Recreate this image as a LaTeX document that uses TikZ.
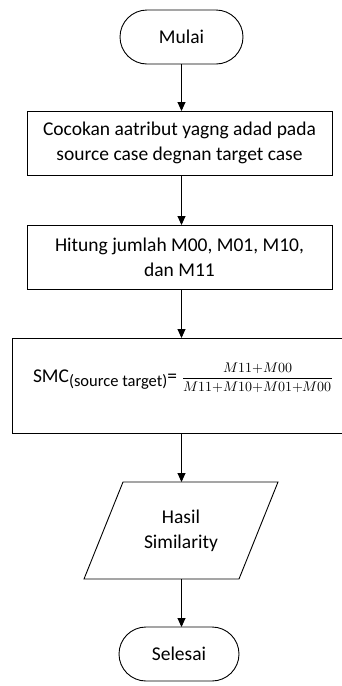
\documentclass[tikz,border=0pt]{standalone}
\usepackage{fontspec}
\usepackage{unicode-math}
\setmainfont{Carlito}
\setmathfont{Latin Modern Math}
\usetikzlibrary{arrows.meta}
\newcommand{\smcsub}[1]{\raisebox{-4.5pt}{\fontsize{16.5}{18}\selectfont #1}}
\newcommand{\smcfrac}[2]{{\fontsize{14}{16}\selectfont$\dfrac{#1}{#2}$}}
\begin{document}
\begin{tikzpicture}[x=1pt,y=-1pt,
  every node/.style={inner sep=0pt,outer sep=0pt},
  shape line/.style={draw=black,line width=0.9pt},
  terminal/.style={shape line,rectangle,rounded corners=27pt,minimum width=123pt,minimum height=54pt,
    font=\fontsize{19.5}{25}\selectfont},
  process/.style={shape line,rectangle,minimum height=64pt,align=center,
    font=\fontsize{19.5}{25}\selectfont},
  flow/.style={line width=0.9pt,-{Triangle[length=9pt,width=8pt]}}]
\useasboundingbox (0,0) rectangle (342,686);
\fill[white] (0,0) rectangle (342,686);

% start / end terminals
\node[terminal] (start) at (181.5,37) {Mulai};
\node[terminal,minimum width=120pt] (stop) at (179,654) {Selesai};

% process steps
\node[process,minimum width=305pt] (match) at (179.5,143)
  {Cocokan aatribut yagng adad pada\\source case degnan target case};
\node[process,minimum width=305pt] (count) at (179.5,257)
  {Hitung jumlah M00, M01, M10,\\dan M11};
\node[process,minimum width=340pt,minimum height=95pt] (smcbox) at (182,385.5) {};
\node[anchor=base west,font=\fontsize{19.5}{25}\selectfont] (smc) at (33,382)
  {SMC\smcsub{(source target)}=\hspace{5pt}\smcfrac{M11{+}M00}{M11{+}M10{+}M01{+}M00}};

% output parallelogram
\node[minimum width=155pt,minimum height=97pt,align=center,
  font=\fontsize{19.5}{25}\selectfont] (res) at (181,530.5) {Hasil\\Similarity};
\draw[shape line] ([xshift=-19.5pt]res.south west) -- ([xshift=-19.5pt]res.south east)
  -- ([xshift=19.5pt]res.north east) -- ([xshift=19.5pt]res.north west) -- cycle;

% connectors
\draw[flow] (start.south) -- (start.south |- match.north);
\draw[flow] (start.south |- match.south) -- (start.south |- count.north);
\draw[flow] (start.south |- count.south) -- (start.south |- smcbox.north);
\draw[flow] (start.south |- smcbox.south) -- (start.south |- res.north);
\draw[flow] (start.south |- res.south) -- (start.south |- stop.north);
\end{tikzpicture}
\end{document}
